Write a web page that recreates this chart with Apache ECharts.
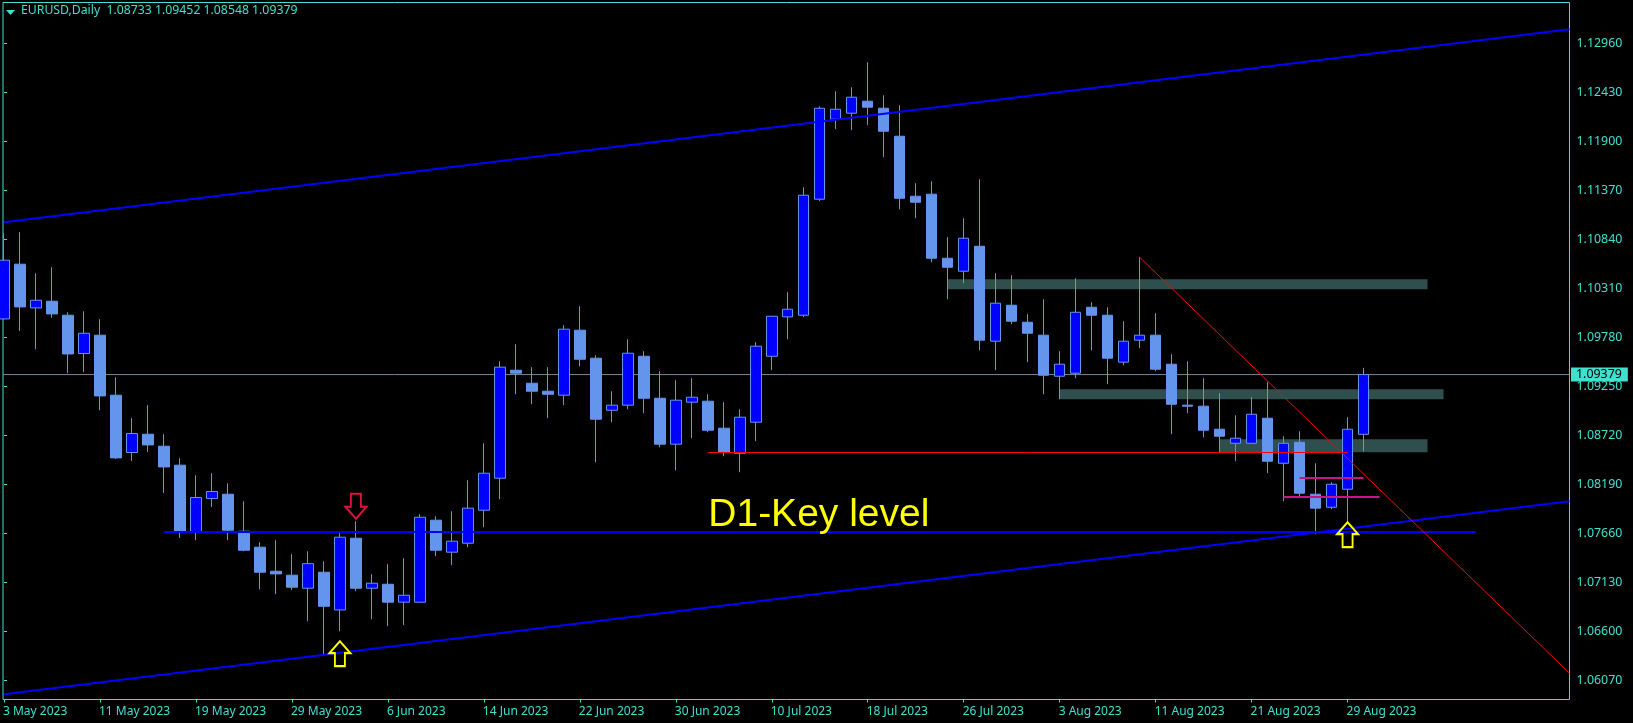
<!DOCTYPE html>
<html>
<head>
<meta charset="utf-8">
<style>html,body{margin:0;padding:0;background:#000;overflow:hidden}#c{width:1633px;height:723px}</style>
<script src="https://cdn.jsdelivr.net/npm/echarts@6/dist/echarts.min.js"></script>
</head>
<body>
<div id="c"></div>
<script>
const symbolName = 'EURUSD,Daily';
const headerValues = ['1.08733', '1.09452', '1.08548', '1.09379'];
const tickLabels = ['3 May 2023','11 May 2023','19 May 2023','29 May 2023','6 Jun 2023','14 Jun 2023','22 Jun 2023','30 Jun 2023','10 Jul 2023','18 Jul 2023','26 Jul 2023','3 Aug 2023','11 Aug 2023','21 Aug 2023','29 Aug 2023'];
const tickIndexes = [0,6,12,18,24,30,36,42,48,54,60,66,72,78,84];
const priceTicks = [1.0607,1.066,1.0713,1.0766,1.0819,1.0872,1.0925,1.0978,1.1031,1.1084,1.1137,1.119,1.1243,1.1296];
const lastPrice = 1.09379;

const opens = [1.09981,1.10573,1.10100,1.10172,1.10021,1.09607,1.09805,1.09156,1.08536,1.08734,
1.08604,1.08399,1.07674,1.08038,1.08085,1.07685,1.07512,1.07252,1.07209,1.07068,
1.07241,1.06833,1.07609,1.07068,1.07111,1.06917,1.06917,1.07804,1.07458,1.07555,
1.07912,1.08258,1.09426,1.09285,1.09199,1.09156,1.09859,1.09556,1.08993,1.09048,
1.09577,1.09123,1.08626,1.09080,1.09091,1.08799,1.08528,1.08864,1.09577,1.10003,
1.10021,1.11276,1.12141,1.12206,1.12336,1.12260,1.11957,1.11308,1.11330,1.10637,
1.10497,1.10767,1.09740,1.10129,1.09945,1.09805,1.09361,1.09394,1.10107,1.10021,
1.09513,1.09751,1.09805,1.09491,1.09048,1.09037,1.08788,1.08636,1.08636,1.08907,
1.08420,1.08647,1.08085,1.07944,1.08139,1.08733];
const closes = [1.10616,1.10111,1.10183,1.10035,1.09602,1.09826,1.09148,1.08478,1.08741,1.08618,
1.08380,1.07685,1.08049,1.08114,1.07696,1.07479,1.07241,1.07223,1.07079,1.07334,
1.06873,1.07620,1.07068,1.07122,1.06917,1.06992,1.07836,1.07479,1.07577,1.07934,
1.08312,1.09459,1.09394,1.09199,1.09166,1.09870,1.09545,1.08896,1.09048,1.09610,
1.09123,1.08626,1.09102,1.09134,1.08777,1.08539,1.08918,1.09686,1.10010,1.10086,
1.11319,1.12260,1.12249,1.12379,1.12271,1.12011,1.11286,1.11243,1.10637,1.10540,
1.10854,1.09751,1.10151,1.09956,1.09826,1.09372,1.09491,1.10053,1.10021,1.09556,
1.09740,1.09805,1.09437,1.09058,1.09037,1.08777,1.08712,1.08691,1.08950,1.08442,
1.08636,1.08096,1.07934,1.08193,1.08788,1.09379];
const lows = [1.09981,1.09851,1.09653,1.09992,1.09394,1.09404,1.08993,1.08467,1.08445,1.08542,
1.08099,1.07612,1.07587,1.07947,1.07587,1.07468,1.07057,1.07003,1.07047,1.06711,
1.06344,1.06603,1.07036,1.06733,1.06657,1.06668,1.06917,1.07414,1.07317,1.07512,
1.07728,1.08031,1.09166,1.09058,1.08907,1.09048,1.09469,1.08431,1.08864,1.09004,
1.08961,1.08593,1.08344,1.08691,1.08755,1.08496,1.08323,1.08658,1.09426,1.09761,
1.10000,1.11254,1.12033,1.12022,1.12076,1.11730,1.11167,1.11070,1.10594,1.10194,
1.10367,1.09642,1.09426,1.09924,1.09513,1.09166,1.09112,1.09339,1.09642,1.09275,
1.09480,1.09664,1.09415,1.08734,1.08961,1.08701,1.08539,1.08442,1.08636,1.08312,
1.08009,1.08063,1.07652,1.07923,1.07782,1.08548];
const highs = [1.10908,1.10919,1.10475,1.10540,1.10053,1.10064,1.09978,1.09350,1.08907,1.09048,
1.08734,1.08474,1.08290,1.08312,1.08204,1.08009,1.07566,1.07587,1.07436,1.07468,
1.07360,1.07663,1.07793,1.07220,1.07328,1.07393,1.07869,1.07847,1.07901,1.08236,
1.08636,1.09523,1.09707,1.09459,1.09459,1.09913,1.10118,1.09588,1.09199,1.09761,
1.09632,1.09415,1.09318,1.09339,1.09166,1.09080,1.09004,1.09729,1.10010,1.10270,
1.11405,1.12281,1.12444,1.12487,1.12757,1.12400,1.12292,1.11449,1.11470,1.10865,
1.11070,1.11492,1.10475,1.10454,1.10032,1.10194,1.09632,1.10421,1.10162,1.10107,
1.09956,1.10648,1.10043,1.09599,1.09523,1.09339,1.09177,1.08939,1.09134,1.09296,
1.08712,1.08766,1.08420,1.08215,1.08918,1.09452];

const channelUpper = [[0,1.11027],[97.875,1.13114]];
const channelLower = [[0,1.05922],[97.875,1.08009]];
const keyLevel = [[10,1.07676],[92,1.07676]];
const redLevel = [[44,1.08536],[84,1.08536]];
const redDiagonal = [[71,1.10648],[97.875,1.06149]];
const magentaUpper = [[81,1.08260],[85,1.08260]];
const magentaLower = [[80,1.08055],[86,1.08055]];
const zones = [[59,89,1.10410,1.10302],[66,90,1.09221,1.09112],[76,89,1.08680,1.08539]];
const upArrows = [[21,1.06360],[84,1.07647]];
const downArrows = [[22,1.07955]];
const keyLevelNote = {text:'D1-Key level', x:44.0, price:1.07855};

const TURQ = '#40E0D0', FONT = '"Noto Sans","Open Sans",sans-serif';
const X_MIN = -0.0625, X_MAX = 97.875;
const ARROW = 'path://M10.5 0L21 12L15.5 12L15.5 25L5.5 25L5.5 12L0 12Z';

const candleData = opens.map((o,i)=>[i,o,closes[i],lows[i],highs[i]]);
const seg = (name,data,color,width,z)=>({name,type:'line',data,symbol:'none',silent:true,z,clip:true,
  lineStyle:{color,width,cap:'butt'},itemStyle:{color}});

const chart = echarts.init(document.getElementById('c'),null,{renderer:'canvas'});
chart.setOption({
  animation:false,
  backgroundColor:'#000000',
  textStyle:{fontFamily:FONT},
  grid:{left:2.5,top:2.5,width:1567,height:697,show:true,backgroundColor:'transparent',borderColor:TURQ,borderWidth:1},
  xAxis:{type:'value',min:X_MIN,max:X_MAX,splitLine:{show:false},
    axisLine:{show:false},
    axisTick:{show:true,length:3,lineStyle:{color:TURQ,width:1},customValues:tickIndexes},
    axisLabel:{color:TURQ,fontSize:12,fontFamily:FONT,align:'left',margin:6,padding:[0,0,0,-1],
      customValues:tickIndexes,showMinLabel:true,showMaxLabel:true,hideOverlap:false,
      formatter:v=>tickLabels[tickIndexes.indexOf(Math.round(v))]}},
  yAxis:{type:'value',position:'right',min:1.058645,max:1.134035,scale:true,splitLine:{show:false},
    axisLine:{show:false},
    axisTick:{show:true,length:3,lineStyle:{color:TURQ,width:1},customValues:priceTicks},
    axisLabel:{color:TURQ,fontSize:12.4,fontFamily:FONT,margin:7,padding:[4,0,0,0],
      customValues:priceTicks,showMinLabel:true,showMaxLabel:true,hideOverlap:false,
      formatter:v=>v.toFixed(5)}},
  graphic:[
    {type:'polygon',shape:{points:[[6,10],[15,10],[10.5,15]]},style:{fill:TURQ},silent:true},
    {type:'text',left:21,top:5,silent:true,style:{text:symbolName+'  '+headerValues.join(' '),fill:TURQ,font:'12.25px '+FONT}}
  ],
  series:[
    {name:'zones',type:'line',data:[],z:1,silent:true,
      markArea:{silent:true,itemStyle:{color:'#2F4F4F',opacity:1,borderWidth:0},
        data:zones.map(r=>[{xAxis:r[0],yAxis:r[2]},{xAxis:r[1],yAxis:r[3]}])}},
    seg('lastPriceLine',[[X_MIN,lastPrice],[X_MAX,lastPrice]],'#778899',1,1),
    {name:'EURUSD',type:'candlestick',z:3,data:candleData,encode:{x:0,y:[1,2,3,4]},barWidth:11,clip:true,silent:true,
      itemStyle:{color:'#0000FF',color0:'#6495ED',borderColor:'#6495ED',borderColor0:'#6495ED',borderWidth:1}},
    seg('channelUpper',channelUpper,'#0000FF',2,4),
    seg('channelLower',channelLower,'#0000FF',2,4),
    seg('keyLevel',keyLevel,'#0000FF',2,4),
    seg('redLevel',redLevel,'#FF0000',1,4),
    seg('redDiagonal',redDiagonal,'#FF0000',1,4),
    seg('magentaUpper',magentaUpper,'#C71585',2,4),
    seg('magentaLower',magentaLower,'#C71585',2,4),
    {name:'upArrows',type:'scatter',z:5,silent:true,clip:false,data:upArrows,symbol:ARROW,symbolSize:[21,25],
      itemStyle:{color:'transparent',borderColor:'#FFFF00',borderWidth:2,opacity:1}},
    {name:'downArrows',type:'scatter',z:5,silent:true,clip:false,data:downArrows,symbol:ARROW,symbolSize:[21,25],symbolRotate:180,
      itemStyle:{color:'transparent',borderColor:'#DC143C',borderWidth:2,opacity:1}},
    {name:'notes',type:'scatter',z:6,silent:true,clip:false,symbol:'circle',symbolSize:1,itemStyle:{color:'transparent',opacity:1},
      data:[
        {value:[keyLevelNote.x,keyLevelNote.price],label:{show:true,position:'right',distance:0,formatter:keyLevelNote.text,
          color:'#FFFF00',fontSize:39,fontFamily:'"Liberation Sans",Arial,sans-serif'}},
        {value:[X_MAX,lastPrice],label:{show:true,position:'right',distance:1,formatter:lastPrice.toFixed(5),
          color:'#000000',fontSize:12.4,fontFamily:FONT,backgroundColor:TURQ,padding:[0,6,0,5],lineHeight:14}}
      ]}
  ]
});
</script>
</body>
</html>
